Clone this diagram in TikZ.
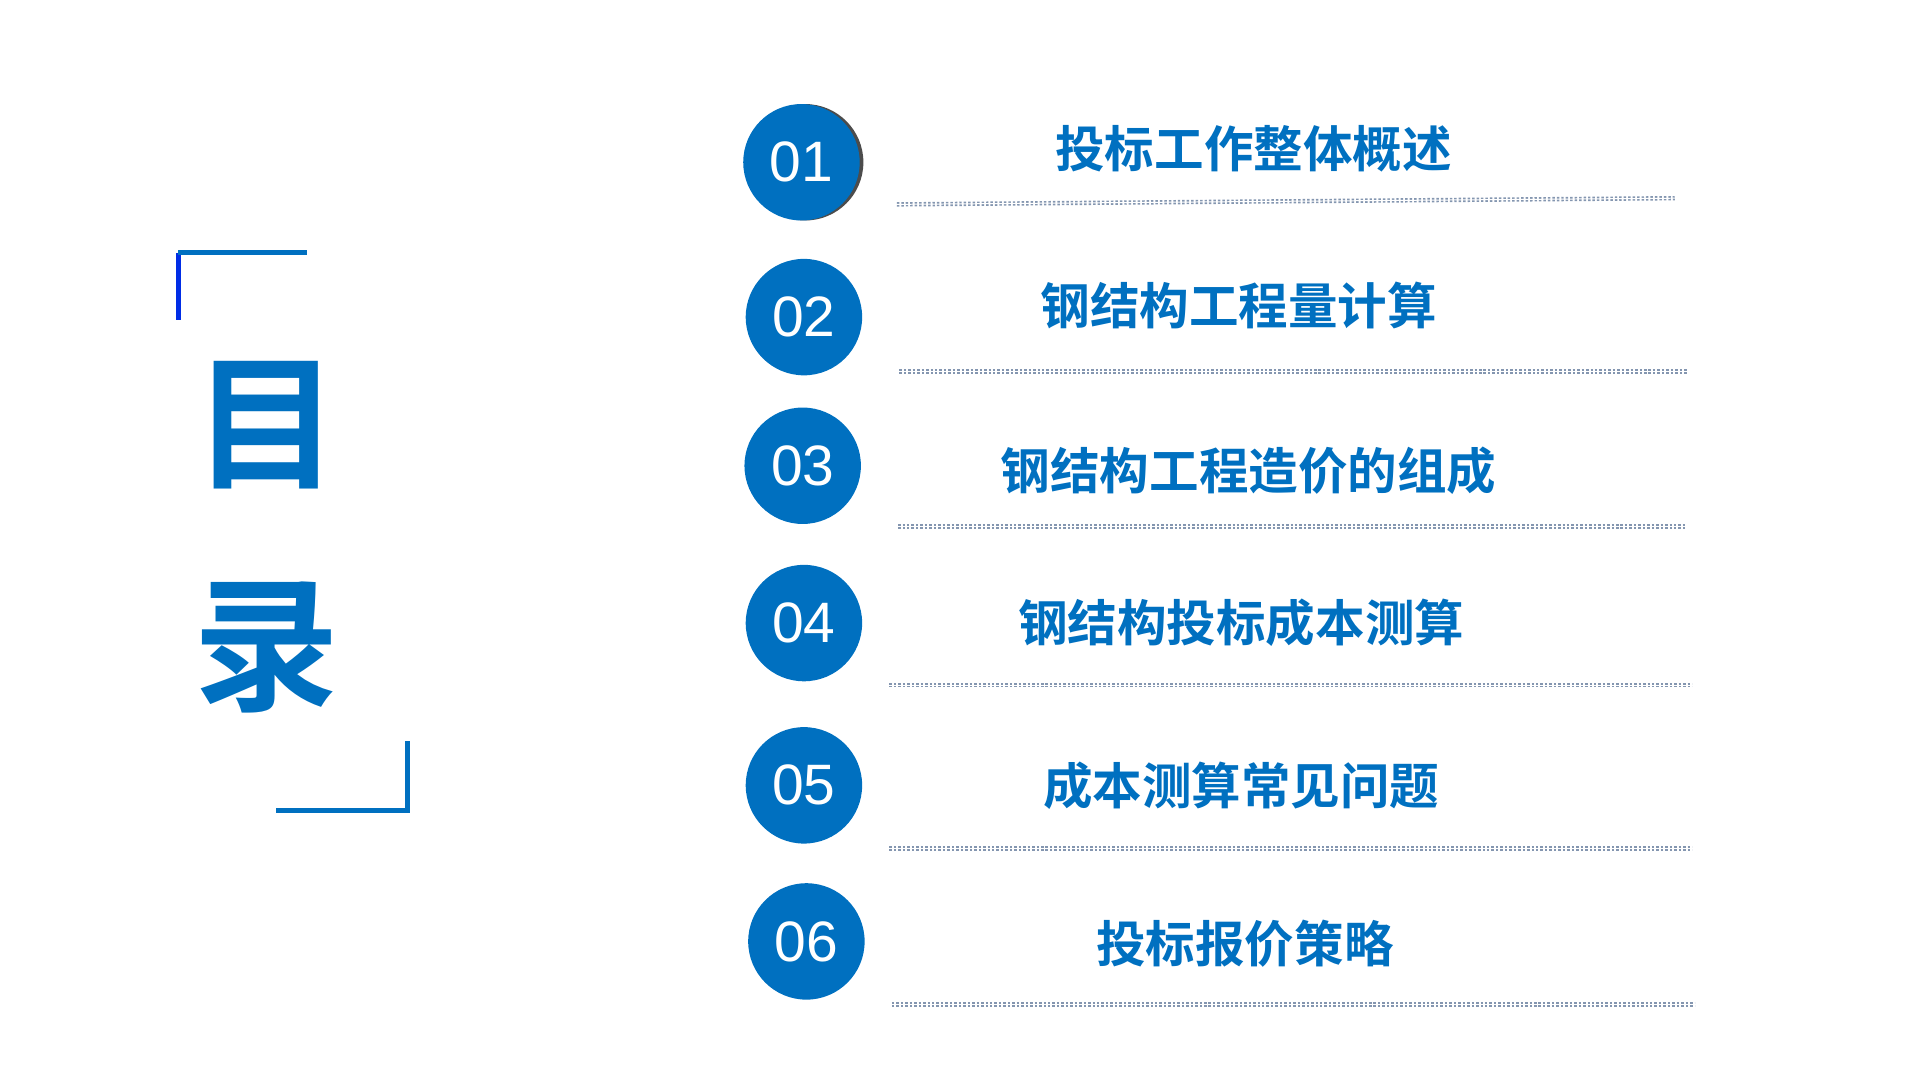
\documentclass[tikz,border=0pt]{standalone}
\usepackage{fontspec}
\setmainfont{Liberation Sans}
\newfontfamily\cjk{Noto Sans CJK SC}[BoldFont={Noto Sans CJK SC Bold}]
\definecolor{mblue}{HTML}{0070C0}
\definecolor{dotc}{HTML}{8496B0}
\begin{document}
\begin{tikzpicture}[x=1pt,y=-1pt,
  num/.style={circle,fill=mblue,minimum size=94pt,inner sep=0pt,text=white,font=\fontsize{46}{46}\selectfont},
  ttl/.style={text=mblue,font=\cjk\bfseries\fontsize{40}{40}\selectfont},
  big/.style={text=mblue,font=\cjk\bfseries\fontsize{118}{118}\selectfont},
  brk/.style={draw=mblue,line width=4pt},
  dotl/.style={draw=dotc,line width=3.5pt,dash pattern=on 2pt off 1.6pt}]
\useasboundingbox (0,0) rectangle (1550,872);
\fill[black!70] (650,131) circle (47);
\node[num] (c1) at (647,131) {01};
\node[num] (c2) at (649,256) {02};
\node[num] (c3) at (648,376) {03};
\node[num] (c4) at (649,503) {04};
\node[num] (c5) at (649,634) {05};
\node[num] (c6) at (651,760) {06};
\node[ttl] (t1) at (1012,120) {投标工作整体概述};
\node[ttl] (t2) at (1000,247) {钢结构工程量计算};
\node[ttl] (t3) at (1008,380) {钢结构工程造价的组成};
\node[ttl] (t4) at (1002,503) {钢结构投标成本测算};
\node[ttl] (t5) at (1002,634) {成本测算常见问题};
\node[ttl] (t6) at (1005,762) {投标报价策略};
\foreach \a/\b/\y/\z in {724/1352/165/160,726/1362/300/300,725/1361/425/425,718/1366/553/553,718/1366/685/685,720/1368/811/811}{
  \draw[dotl] (\a,\y) -- (\b,\z);
  \draw[white,line width=0.8pt] (\a-2,\y) -- (\b+2,\z);
}
\node[big] (m1) at (215,343) {目};
\node[big] (m2) at (215,523) {录};
\coordinate (b1) at (144,258); \coordinate (b2) at (144,204); \coordinate (b3) at (248,204);
\draw[brk,draw=blue!60!mblue] (b1) -- (b2);
\draw[brk] (b2) -- (b3);
\coordinate (d1) at (223,654); \coordinate (d2) at (329,654); \coordinate (d3) at (329,598);
\draw[brk] (d1) -- (d2) -- (d3);
\end{tikzpicture}
\end{document}
